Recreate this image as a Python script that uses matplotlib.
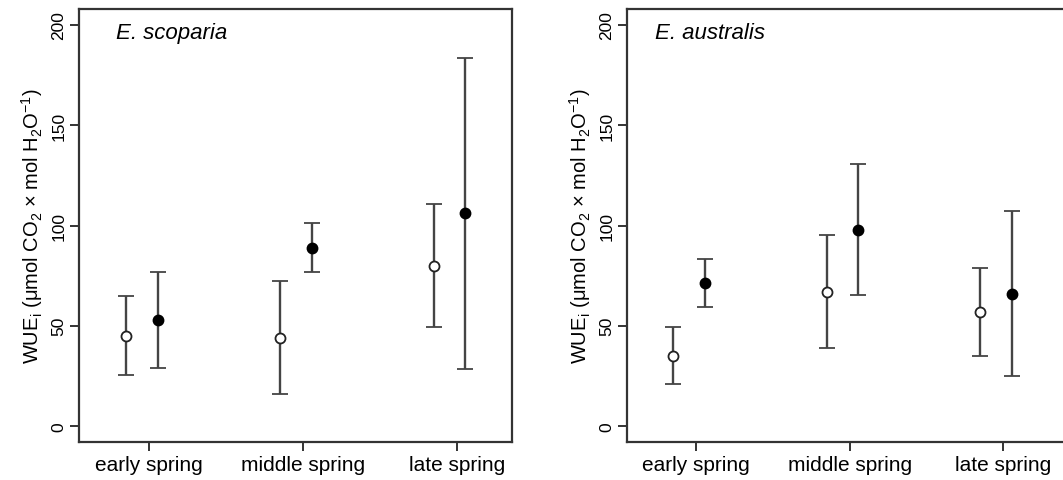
import matplotlib
matplotlib.use("Agg")
import matplotlib.pyplot as plt
import numpy as np

plt.rcParams['font.family'] = ['Liberation Sans', 'DejaVu Sans']
plt.rcParams['mathtext.fontset'] = 'custom'
plt.rcParams['mathtext.rm'] = 'Liberation Sans'
plt.rcParams['mathtext.it'] = 'Liberation Sans:italic'

categories = ["early spring", "middle spring", "late spring"]
yticks = [0, 50, 100, 150, 200]

# E. scoparia
sco_open_mean = [45, 44, 80]
sco_open_err = [19.7, 28.3, 30.6]
sco_filled_mean = [53, 89, 106]
sco_filled_err = [23.9, 12.4, 77.8]

# E. australis
aus_open_mean = [35, 67, 57]
aus_open_err = [14.2, 28.3, 22.0]
aus_filled_mean = [71.5, 98, 66]
aus_filled_err = [12.0, 32.5, 41.0]

titles = ["E. scoparia", "E. australis"]

W, H = 1063, 481
fig = plt.figure(figsize=(W / 100, H / 100), dpi=100)

panels = [
    dict(rect=[79, 10, 433, 433], xlim=(0.545, 3.357), tx=0.085,
         o_m=sco_open_mean, o_e=sco_open_err, f_m=sco_filled_mean, f_e=sco_filled_err),
    dict(rect=[627, 10, 441, 433], xlim=(0.55, 3.423), tx=0.064,
         o_m=aus_open_mean, o_e=aus_open_err, f_m=aus_filled_mean, f_e=aus_filled_err),
]

ecol = '#444444'
for i, p in enumerate(panels):
    x0, y0, w, h = p['rect']
    ax = fig.add_axes([x0 / W, 1 - (y0 + h) / H, w / W, h / H])
    pos = np.arange(1, len(categories) + 1)
    ax.errorbar(pos - 0.15, p['o_m'], yerr=p['o_e'], fmt='o', color=ecol, ecolor=ecol,
                elinewidth=1.7, capsize=5.5, capthick=1.7, markersize=7.2,
                markerfacecolor='white', markeredgecolor='#222222', markeredgewidth=1.3, zorder=3)
    ax.errorbar(pos + 0.055, p['f_m'], yerr=p['f_e'], fmt='o', color=ecol, ecolor=ecol,
                elinewidth=1.7, capsize=5.5, capthick=1.7, markersize=7.2,
                markerfacecolor='black', markeredgecolor='black', markeredgewidth=1.3, zorder=3)
    ax.set_xlim(*p['xlim'])
    ax.set_ylim(-8, 208)
    ax.set_xticks(pos)
    ax.set_xticklabels(categories, fontsize=15)
    ax.set_yticks(yticks)
    ax.set_yticklabels([str(v) for v in yticks], fontsize=12.5, rotation=90, va='center')
    ax.tick_params(axis='both', direction='out', length=6.5, width=1.4, color='#333333')
    ax.tick_params(axis='y', pad=2.5)
    ax.tick_params(axis='x', pad=3)
    for s in ax.spines.values():
        s.set_linewidth(1.6)
        s.set_color('#333333')
    ax.set_ylabel(r'WUE$_{\mathrm{i}}$ ($\mathrm{\mu}$mol CO$_2$ $\times$ mol H$_2$O$^{-1}$)',
                  fontsize=14.5, labelpad=5)
    ax.text(p['tx'], 0.933, titles[i], transform=ax.transAxes, fontsize=16,
            style='italic', va='baseline', ha='left')

fig.savefig('out.png', dpi=100)
